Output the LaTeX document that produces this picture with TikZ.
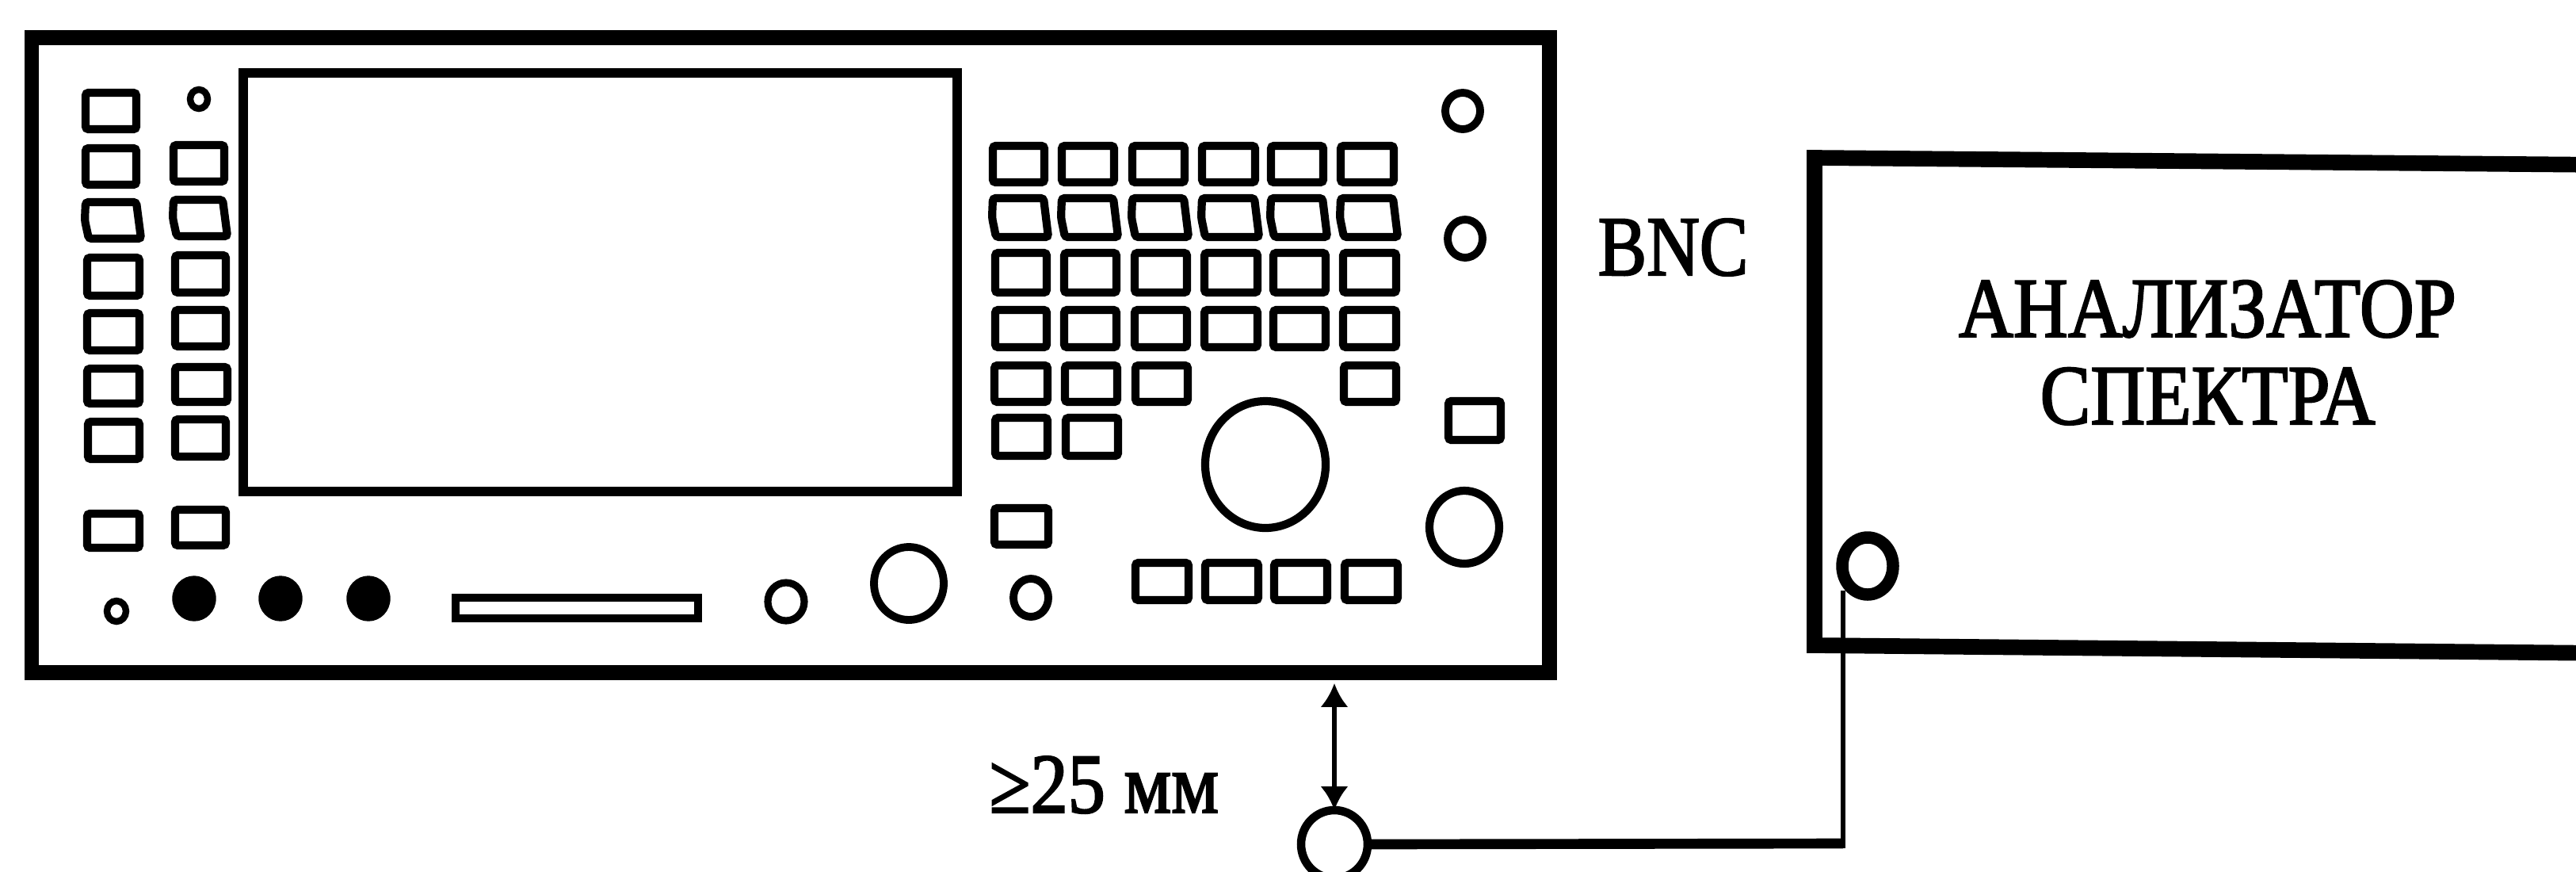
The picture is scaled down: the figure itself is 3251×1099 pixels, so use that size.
\documentclass[tikz,border=0pt]{standalone}
\usepackage{fontspec}
\setmainfont{Liberation Serif}[RawFeature={embolden=2.2}]
\usetikzlibrary{shapes.geometric,arrows.meta}
\tikzset{
  x=0.01cm,y=-0.01cm,
  btn/.style={draw=black,line width=2.9pt,rounded corners=1pt,fill=white},
  frame/.style={draw=black,line width=5.4pt,line join=miter},
  ring/.style={ellipse,draw=black,inner sep=0pt,outer sep=0pt},
  lab/.style={inner sep=0pt,font=\fontsize{30.5pt}{32pt}\selectfont,anchor=base},
  leadh/.style={draw=black,line width=3.6pt},
  leadv/.style={draw=black,line width=1.9pt},
  gauge/.style={draw=black,line width=1.5pt,{Latex[length=8.5pt,width=10pt]}-{Latex[length=8.5pt,width=10pt]}},
}
\newcommand{\btnbox}[4]{\draw[btn] (#1+5,#2+5) rectangle (#3-5,#4-5);}
\newcommand{\slantbox}[4]{\draw[btn] (#1+5,#2+5) -- (#3-9,#2+5) -- (#3-3,#4-5) -- (#1+9,#4-5) -- (#1+4,{(#2+#4)/2}) -- cycle;}
\begin{document}
\begin{tikzpicture}
\useasboundingbox (0,0) rectangle (3251,1099);
\clip (0,0) rectangle (3251,1099);
\fill[white] (0,0) rectangle (3251,1099);
% instrument panel
\node[frame,rectangle,inner sep=0pt,outer sep=0pt,minimum width=1915*0.01cm,minimum height=801*0.01cm,anchor=north west] (panel) at (40,47) {};
% screen
\node[draw=black,line width=3.2pt,rectangle,inner sep=0pt,outer sep=0pt,minimum width=901*0.01cm,minimum height=528*0.01cm,anchor=north west] (screen) at (307,92) {};
% left keys, first column
\btnbox{103}{112}{177}{168}
\btnbox{103}{182}{177}{238}
\slantbox{103}{250}{181}{306}
\btnbox{105}{320}{181}{378}
\btnbox{105}{390}{181}{447}
\btnbox{105}{460}{181}{514}
\btnbox{106}{527}{181}{584}
\btnbox{105}{643}{181}{696}
% left keys, second column
\btnbox{214}{178}{288}{234}
\slantbox{214}{247}{290}{303}
\btnbox{216}{317}{290}{374}
\btnbox{216}{386}{290}{442}
\btnbox{216}{458}{292}{512}
\btnbox{216}{524}{290}{581}
\btnbox{216}{638}{290}{693}
\node[ring,line width=2.4pt,minimum width=22*0.01cm,minimum height=24*0.01cm] (ledtop) at (251,125) {};
% bottom row left
\node[ring,line width=2.4pt,minimum width=24*0.01cm,minimum height=26*0.01cm] (ledlow) at (147,771) {};
\node[ring,fill=black,minimum width=54*0.01cm,minimum height=56*0.01cm] (disca) at (245,755) {};
\node[ring,fill=black,minimum width=54*0.01cm,minimum height=56*0.01cm] (discb) at (354,755) {};
\node[ring,fill=black,minimum width=54*0.01cm,minimum height=56*0.01cm] (discc) at (465,755) {};
\node[draw=black,line width=2.8pt,rectangle,inner sep=0pt,outer sep=0pt,minimum width=306*0.01cm,minimum height=26*0.01cm,anchor=north west] (slot) at (575,754) {};
\node[ring,line width=2.6pt,minimum width=46*0.01cm,minimum height=48*0.01cm] (knoba) at (992,759) {};
\node[ring,line width=2.8pt,minimum width=88*0.01cm,minimum height=92*0.01cm] (knobb) at (1147,736) {};
\node[ring,line width=2.8pt,minimum width=44*0.01cm,minimum height=48*0.01cm] (knobc) at (1301,754) {};
% key grid
\foreach \l/\r in {1248/1323,1335/1411,1424/1500,1512/1589,1599/1675,1687/1764}{
  \btnbox{\l}{179}{\r}{235}
  \slantbox{\l}{245}{\r+3}{304}
  \btnbox{\l+3}{314}{\r+3}{374}
  \btnbox{\l+3}{386}{\r+3}{443}
}
\foreach \l/\r in {1250/1327,1339/1415,1428/1504,1691/1767}{\btnbox{\l}{456}{\r}{512}}
\foreach \l/\r in {1251/1327,1340/1416}{\btnbox{\l}{522}{\r}{580}}
\btnbox{1250}{636}{1328}{692}
\foreach \l/\r in {1428/1505,1516/1593,1603/1680,1692/1769}{\btnbox{\l}{705}{\r}{762}}
\node[ring,line width=2.9pt,minimum width=152*0.01cm,minimum height=160*0.01cm] (dial) at (1597,586) {};
% right column
\node[ring,line width=2.8pt,minimum width=44*0.01cm,minimum height=46*0.01cm] (jacka) at (1846,140) {};
\node[ring,line width=2.8pt,minimum width=44*0.01cm,minimum height=48*0.01cm] (jackb) at (1849,301) {};
\btnbox{1823}{501}{1899}{560}
\node[ring,line width=2.9pt,minimum width=88*0.01cm,minimum height=92*0.01cm] (jackc) at (1848,665) {};
% labels
\node[lab,anchor=base west] (bnc) at (2016,347) {\scalebox{.86}[1]{BNC}};
\node[lab,align=center,anchor=north,font=\fontsize{30.5pt}{31.3pt}\selectfont] (analyzer) at (2786,353) {\scalebox{.89}[1]{АНАЛИЗАТОР}\\\scalebox{.89}[1]{СПЕКТРА}};
\node[lab,anchor=base west] (gap) at (1248,1025) {\scalebox{.88}[1]{≥25 мм}};
% analyzer box, running off the right edge
\draw[frame,line width=5.6pt] (3290,208) -- (2290,199) -- (2290,814) -- (3290,824);
% connectors
\node[ring,line width=4.4pt,minimum width=64*0.01cm,minimum height=72*0.01cm] (port) at (2357,714) {};
\node[ring,line width=3pt,minimum width=84*0.01cm,minimum height=86*0.01cm] (probe) at (1684,1065) {};
\coordinate (bend) at (2326,1064);
\coordinate (portfoot) at (2326,745);
\draw[leadh] (probe.east) -- (bend);
\draw[leadv] ([yshift=-1.8pt]bend) -- (portfoot);
\draw[gauge] (panel.south -| probe.north) ++(0,14) -- (probe.north);
\end{tikzpicture}
\end{document}
